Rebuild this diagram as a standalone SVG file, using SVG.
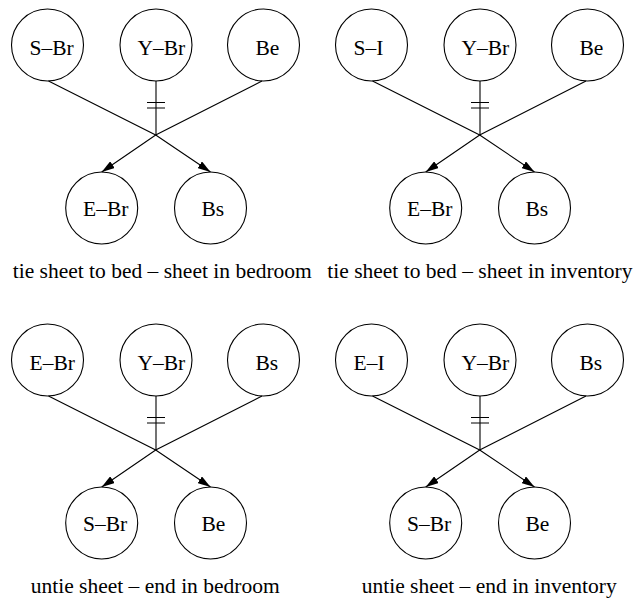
<svg xmlns="http://www.w3.org/2000/svg" width="637" height="601" viewBox="0 0 637 601">
<style>
.n{fill:none;stroke:#000;stroke-width:1.1}
.t{font-family:"Liberation Serif","Times New Roman",serif;font-size:21.5px;fill:#000}
.c{fill:none;stroke:#000;stroke-width:1.1}
.a{marker-end:url(#ah)}
</style>
<defs>
<marker id="ah" markerUnits="userSpaceOnUse" viewBox="0 0 13 8" refX="13" refY="4" markerWidth="13" markerHeight="8" orient="auto">
<path d="M0,0 L13,4 L0,8 z" fill="#000"/>
</marker>
</defs>
<rect width="637" height="601" fill="#fff"/>

<!-- Panel 1: tie sheet to bed - sheet in bedroom -->
<g id="panel1">
<g id="p1-SBr"><circle class="n" cx="47.5" cy="45" r="36"/><text class="t" x="29.5" y="55">S–Br</text></g>
<g id="p1-YBr"><circle class="n" cx="156" cy="45" r="36"/><text class="t" x="137.5" y="55">Y–Br</text></g>
<g id="p1-Be"><circle class="n" cx="263.5" cy="45" r="36"/><text class="t" x="255.5" y="55">Be</text></g>
<g id="p1-EBr"><circle class="n" cx="101.7" cy="208" r="36"/><text class="t" x="83" y="216">E–Br</text></g>
<g id="p1-Bs"><circle class="n" cx="210.5" cy="208" r="36"/><text class="t" x="201.5" y="216">Bs</text></g>
<g id="p1-connectors">
<path class="c" d="M156,81 V135 M147,102.5 H165 M147,108 H165"/>
<polyline class="c a" points="48.5,81 155.7,135 210.5,172"/>
<polyline class="c a" points="262,81 155.7,135 101.7,172"/>
</g>
<text class="t" x="12.7" y="278.3">tie sheet to bed – sheet in bedroom</text>
</g>

<!-- Panel 2: tie sheet to bed - sheet in inventory -->
<g id="panel2" transform="translate(324,0)">
<g id="p2-SI"><circle class="n" cx="47.5" cy="45" r="36"/><text class="t" x="29.5" y="55">S–I</text></g>
<g id="p2-YBr"><circle class="n" cx="156" cy="45" r="36"/><text class="t" x="137.5" y="55">Y–Br</text></g>
<g id="p2-Be"><circle class="n" cx="263.5" cy="45" r="36"/><text class="t" x="255.5" y="55">Be</text></g>
<g id="p2-EBr"><circle class="n" cx="101.7" cy="208" r="36"/><text class="t" x="83" y="216">E–Br</text></g>
<g id="p2-Bs"><circle class="n" cx="210.5" cy="208" r="36"/><text class="t" x="201.5" y="216">Bs</text></g>
<g id="p2-connectors">
<path class="c" d="M156,81 V135 M147,102.5 H165 M147,108 H165"/>
<polyline class="c a" points="48.5,81 155.7,135 210.5,172"/>
<polyline class="c a" points="262,81 155.7,135 101.7,172"/>
</g>
<text class="t" x="3.3" y="278.3">tie sheet to bed – sheet in inventory</text>
</g>

<!-- Panel 3: untie sheet - end in bedroom -->
<g id="panel3" transform="translate(0,315)">
<g id="p3-EBr"><circle class="n" cx="47.5" cy="45" r="36"/><text class="t" x="29.5" y="55">E–Br</text></g>
<g id="p3-YBr"><circle class="n" cx="156" cy="45" r="36"/><text class="t" x="137.5" y="55">Y–Br</text></g>
<g id="p3-Bs"><circle class="n" cx="263.5" cy="45" r="36"/><text class="t" x="255.5" y="55">Bs</text></g>
<g id="p3-SBr"><circle class="n" cx="101.7" cy="208" r="36"/><text class="t" x="83" y="216">S–Br</text></g>
<g id="p3-Be"><circle class="n" cx="210.5" cy="208" r="36"/><text class="t" x="201.5" y="216">Be</text></g>
<g id="p3-connectors">
<path class="c" d="M156,81 V135 M147,102.5 H165 M147,108 H165"/>
<polyline class="c a" points="48.5,81 155.7,135 210.5,172"/>
<polyline class="c a" points="262,81 155.7,135 101.7,172"/>
</g>
<text class="t" x="30.7" y="278">untie sheet – end in bedroom</text>
</g>

<!-- Panel 4: untie sheet - end in inventory -->
<g id="panel4" transform="translate(324,315)">
<g id="p4-EI"><circle class="n" cx="47.5" cy="45" r="36"/><text class="t" x="29.5" y="55">E–I</text></g>
<g id="p4-YBr"><circle class="n" cx="156" cy="45" r="36"/><text class="t" x="137.5" y="55">Y–Br</text></g>
<g id="p4-Bs"><circle class="n" cx="263.5" cy="45" r="36"/><text class="t" x="255.5" y="55">Bs</text></g>
<g id="p4-SBr"><circle class="n" cx="101.7" cy="208" r="36"/><text class="t" x="83" y="216">S–Br</text></g>
<g id="p4-Be"><circle class="n" cx="210.5" cy="208" r="36"/><text class="t" x="201.5" y="216">Be</text></g>
<g id="p4-connectors">
<path class="c" d="M156,81 V135 M147,102.5 H165 M147,108 H165"/>
<polyline class="c a" points="48.5,81 155.7,135 210.5,172"/>
<polyline class="c a" points="262,81 155.7,135 101.7,172"/>
</g>
<text class="t" x="37.7" y="278">untie sheet – end in inventory</text>
</g>
</svg>
